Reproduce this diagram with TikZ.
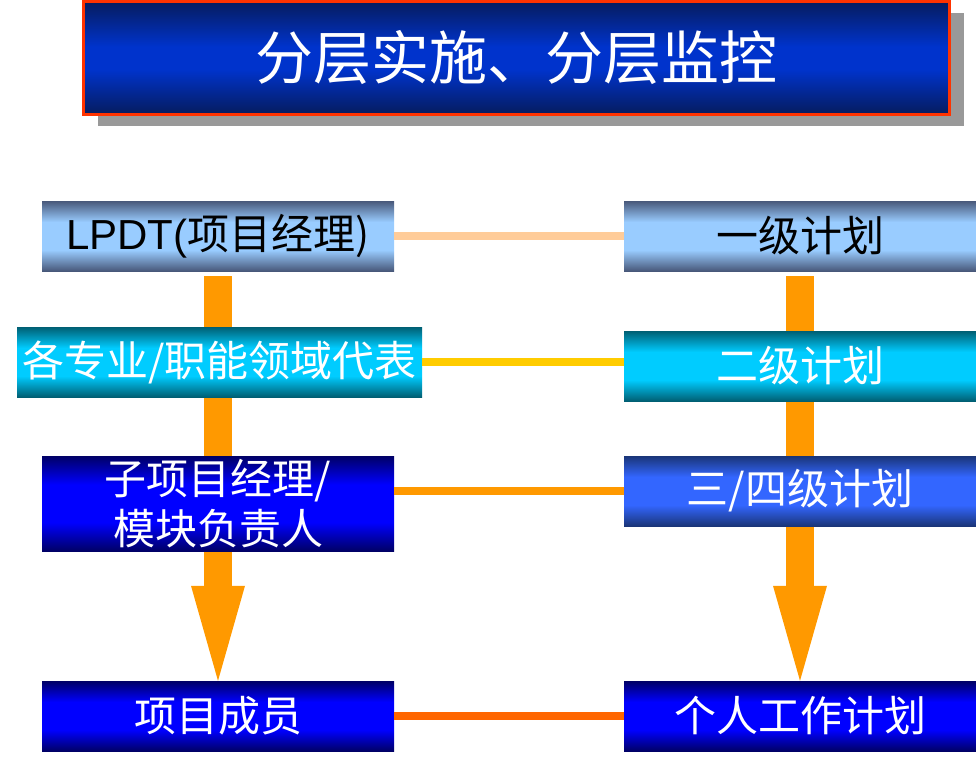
\documentclass[tikz,border=0pt]{standalone}
\usepackage{fontspec}
\setmainfont{Liberation Sans}
\newfontfamily\cjk{Noto Sans CJK SC}
\usetikzlibrary{arrows.meta,backgrounds,shadows}

\definecolor{titleNavy}{HTML}{061C5E}
\definecolor{titleBlue}{HTML}{0033CC}
\definecolor{titleRed}{HTML}{FF3300}
\definecolor{shadowGray}{HTML}{999999}
\definecolor{slateDark}{HTML}{48587A}
\definecolor{skyLight}{HTML}{99CCFF}
\definecolor{tealDark}{HTML}{005F73}
\definecolor{tealLight}{HTML}{00CCFF}
\definecolor{navyDark}{HTML}{000066}
\definecolor{navyLight}{HTML}{0000FF}
\definecolor{steelDark}{HTML}{1A3578}
\definecolor{steelLight}{HTML}{3366FF}
\definecolor{flowOrange}{HTML}{FF9900}
\definecolor{peach}{HTML}{FFCC99}
\definecolor{gold}{HTML}{FFCC00}
\definecolor{rust}{HTML}{FF6600}

\pgfdeclareverticalshading{titleshade}{100bp}{color(0bp)=(titleNavy); color(25bp)=(titleNavy); color(45bp)=(titleBlue); color(55bp)=(titleBlue); color(75bp)=(titleNavy); color(100bp)=(titleNavy)}
\pgfdeclareverticalshading{skyshade}{100bp}{color(0bp)=(slateDark); color(25bp)=(slateDark); color(40bp)=(skyLight); color(60bp)=(skyLight); color(75bp)=(slateDark); color(100bp)=(slateDark)}
\pgfdeclareverticalshading{tealshade}{100bp}{color(0bp)=(tealDark); color(25bp)=(tealDark); color(40bp)=(tealLight); color(60bp)=(tealLight); color(75bp)=(tealDark); color(100bp)=(tealDark)}
\pgfdeclareverticalshading{navyshade}{100bp}{color(0bp)=(navyDark); color(25bp)=(navyDark); color(40bp)=(navyLight); color(60bp)=(navyLight); color(75bp)=(navyDark); color(100bp)=(navyDark)}
\pgfdeclareverticalshading{steelshade}{100bp}{color(0bp)=(steelDark); color(25bp)=(steelDark); color(40bp)=(steelLight); color(60bp)=(steelLight); color(75bp)=(steelDark); color(100bp)=(steelDark)}

\begin{document}
\begin{tikzpicture}[x=1pt,y=-1pt,
  box/.style={minimum width=352pt, minimum height=70pt, inner sep=0pt, align=center, text=white, font=\cjk\fontsize{42}{50}\selectfont},
  skybox/.style={box, shading=skyshade, text=black},
  tealbox/.style={box, shading=tealshade},
  navybox/.style={box, shading=navyshade},
  steelbox/.style={box, shading=steelshade},
  link/.style={line width=8pt},
  flow/.style={draw=flowOrange, line width=28pt, shorten <=5pt, -{Triangle[length=95pt,width=54pt,line width=0pt]}}]
\useasboundingbox (0,0) rectangle (976,764);

\node[draw=titleRed, line width=3pt, shading=titleshade, minimum width=866pt, minimum height=113pt, text=white, font=\cjk\fontsize{58}{64}\selectfont, drop shadow={shadow xshift=14pt, shadow yshift=-11pt, fill=shadowGray, opacity=1}] (title) at (516.5,58) {分层实施、分层监控};

\node[skybox] (lpdt) at (218,236) {\fontspec{Liberation Sans}LPDT(\cjk 项目经理)};
\node[tealbox, minimum width=405pt] (field) at (219.5,362) {各专业/职能领域代表};
\node[navybox, minimum height=95pt] (sub) at (218,503.5) {子项目经理/\\模块负责人};
\node[navybox] (member) at (218,716) {项目成员};

\node[skybox] (plan1) at (800,236) {一级计划};
\node[tealbox] (plan2) at (800,366) {二级计划};
\node[steelbox] (plan34) at (800,491) {三/四级计划};
\node[navybox] (planown) at (800,716) {个人工作计划};

\begin{scope}[on background layer]
\path[flow] (lpdt.south) -- (member.north);
\path[flow] (plan1.south) -- (planown.north);
\end{scope}

\path[draw,link,draw=peach] (lpdt) -- (plan1);
\path[draw,link,draw=gold] (field.east) -- (field.east -| plan2.west);
\path[draw,link,draw=flowOrange] (plan34.west -| sub.east) -- (plan34.west);
\path[draw,link,draw=rust] (member) -- (planown);
\end{tikzpicture}
\end{document}
